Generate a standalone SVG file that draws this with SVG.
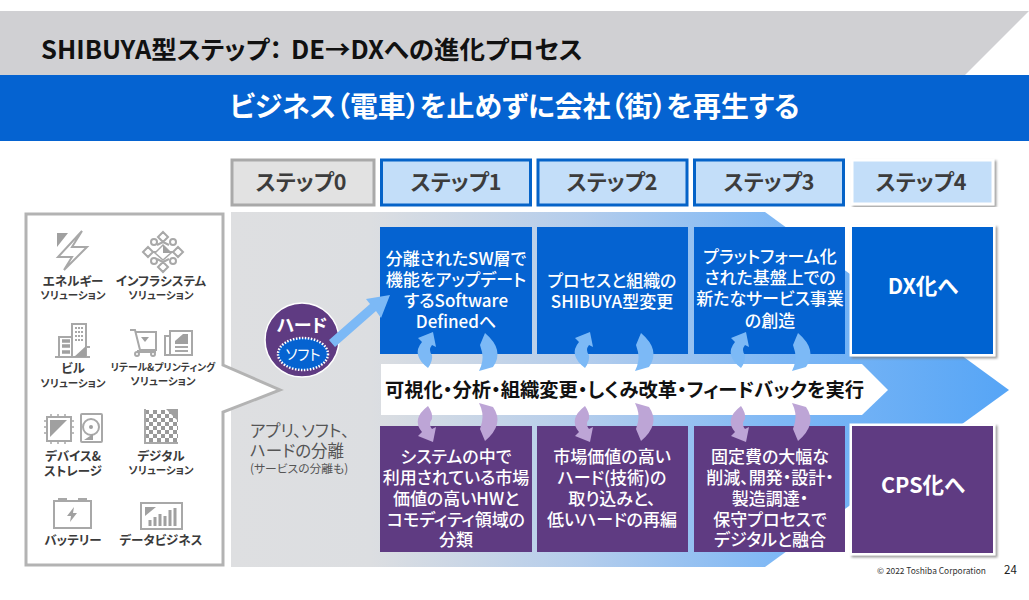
<svg xmlns="http://www.w3.org/2000/svg" width="1029" height="600" viewBox="0 0 1029 600">
<defs>
<style>
text{font-family:"Noto Sans CJK JP","Noto Sans",sans-serif;font-feature-settings:"palt";text-anchor:middle}
.step{font-size:21.500px;font-weight:700;fill:#3c3c3c}
.st{fill:#c3def9;stroke:#0563c8;stroke-width:3}
.box{font-size:17px;font-weight:500;fill:#fff}
.big{font-size:21.500px;font-weight:700;fill:#fff}
.blue{fill:#0563d1}
.pur{fill:#5f3b82}
.lb{font-size:12.500px;font-weight:700;fill:#3a3a3a}
.sl{font-size:10.500px;font-weight:700;fill:#3a3a3a}
.ic{fill:none;stroke:#a8a8a8;stroke-width:2}
.icf{fill:#a0a0a0}
.ca{fill:#7cb9f6}
.cp{fill:#bda5d6}
.note{text-anchor:start;fill:#555}
</style>
<linearGradient id="bg" gradientUnits="userSpaceOnUse" x1="231" y1="0" x2="1009" y2="0">
<stop offset="0" stop-color="#dedfe1"/><stop offset="0.18" stop-color="#dcdee1"/><stop offset="0.45" stop-color="#b4cdec"/><stop offset="0.7" stop-color="#7fb8f5"/><stop offset="1" stop-color="#56a5f6"/>
</linearGradient>
<pattern id="chk" width="8" height="8" patternUnits="userSpaceOnUse" x="145" y="410"><rect width="8" height="8" fill="#fff"/><rect width="4" height="4" fill="#999"/><rect x="4" y="4" width="4" height="4" fill="#999"/></pattern>
<path id="cl" d="M433,332 L418,338 L422,342 Q411,355 428,368 Q433,361 432,355 Q428,350 432,345 L436,347 Z"/>
<path id="cr" d="M485,333 L480,345 L482,352 Q484,361 479,371 L493,367 Q505,350 485,333 Z"/>
<filter id="sh" x="-5%" y="-5%" width="110%" height="110%"><feDropShadow dx="2" dy="2" stdDeviation="1" flood-color="#777" flood-opacity="0.7"/></filter>
</defs>
<rect width="1029" height="600" fill="#fff"/>

<g id="header">
<polygon points="0,11 1029,11 965,75 0,75" fill="#d0d0d3"/>
<rect y="75" width="1029" height="66" fill="#0563d1"/>
<text x="41" y="59" font-size="25.500" font-weight="700" fill="#111" style="text-anchor:start">SHIBUYA型ステップ：<tspan x="291">DE→DXへの進化プロセス</tspan></text>
<text x="514.500" y="117" font-size="27.900" font-weight="700" fill="#fff">ビジネス（電車）を止めずに会社（街）を再生する</text>
</g>

<g id="flow-arrow">
<polygon points="231,212 765,212 1009,390 765,567 231,567" fill="url(#bg)"/>
</g>

<g id="step0"><rect x="232" y="160" width="142" height="45" fill="#e2e2e2" stroke="#a9a9a9" stroke-width="3"/><text class="step" x="301" y="190">ステップ0</text></g>
<g id="step1"><rect class="st" x="381.500" y="160" width="149" height="45"/><text class="step" x="456" y="190">ステップ1</text></g>
<g id="step2"><rect class="st" x="538" y="160" width="149" height="45"/><text class="step" x="612" y="190">ステップ2</text></g>
<g id="step3"><rect class="st" x="694.500" y="160" width="149" height="45"/><text class="step" x="769" y="190">ステップ3</text></g>
<g id="step4"><rect x="852" y="160" width="141" height="44" fill="#c3def9" stroke="#fff" stroke-width="3" filter="url(#sh)"/><text class="step" x="921" y="190">ステップ4</text></g>

<g id="band">
<polygon points="381,364 862,364 888,390 862,415 381,415" fill="#fff"/>
<text x="624.500" y="397" font-size="19.300" font-weight="700" fill="#111">可視化・分析・組織変更・しくみ改革・フィードバックを実行</text>
</g>

<g id="box-t1"><rect class="blue" x="380" y="227" width="152" height="127"/>
<text class="box" x="456" y="265">分離されたSW層で</text><text class="box" x="456" y="286">機能をアップデート</text><text class="box" x="456" y="307">するSoftware</text><text class="box" x="456" y="328">Definedへ</text></g>
<g id="box-t2"><rect class="blue" x="537" y="227" width="151" height="127"/>
<text class="box" x="612" y="287">プロセスと組織の</text><text class="box" x="612" y="308">SHIBUYA型変更</text></g>
<g id="box-t3"><rect class="blue" x="694" y="227" width="151" height="127"/>
<text class="box" x="770" y="263">プラットフォーム化</text><text class="box" x="770" y="284">された基盤上での</text><text class="box" x="770" y="305">新たなサービス事業</text><text class="box" x="770" y="327">の創造</text></g>
<g id="box-dx"><rect class="blue" x="852" y="227" width="141" height="127" stroke="#fff" stroke-width="5" paint-order="stroke" filter="url(#sh)"/><text class="big" x="923" y="294">DX化へ</text></g>

<g id="box-b1"><rect class="pur" x="380" y="426" width="152" height="126"/>
<text class="box" x="456" y="463">システムの中で</text><text class="box" x="456" y="484">利用されている市場</text><text class="box" x="456" y="505">価値の高いHWと</text><text class="box" x="456" y="526">コモディティ領域の</text><text class="box" x="456" y="546">分類</text></g>
<g id="box-b2"><rect class="pur" x="537" y="426" width="151" height="126"/>
<text class="box" x="612" y="463">市場価値の高い</text><text class="box" x="612" y="484">ハード(技術)の</text><text class="box" x="612" y="505">取り込みと、</text><text class="box" x="612" y="526">低いハードの再編</text></g>
<g id="box-b3"><rect class="pur" x="694" y="426" width="151" height="126"/>
<text class="box" x="770" y="463">固定費の大幅な</text><text class="box" x="770" y="484">削減、開発・設計・</text><text class="box" x="770" y="505">製造調達・</text><text class="box" x="770" y="526">保守プロセスで</text><text class="box" x="770" y="546">デジタルと融合</text></g>
<g id="box-cps"><rect class="pur" x="852" y="426" width="141" height="127" stroke="#fff" stroke-width="5" paint-order="stroke" filter="url(#sh)"/><text class="big" x="923" y="493">CPS化へ</text></g>

<g id="portfolio">
<polygon points="26,214 223,214 223,365 280,390 223,412 223,565 26,565" fill="#fff" stroke="#b3b3b3" stroke-width="3"/>
<g id="icon-energy"><polygon class="ic" points="82,231 72,247 87,247 64,270 72,257 58,257"/><polygon class="icf" points="57,233 68,233 57,247"/></g>
<text class="lb" x="73" y="286">エネルギー</text><text class="sl" x="73" y="299">ソリューション</text>
<g id="icon-infra"><path class="ic" d="M163,232l5,5l-5,5l-5,-5zM163,262l5,5l-5,5l-5,-5zM148,247l5,5l-5,5l-5,-5zM178,247l5,5l-5,5l-5,-5zM153,252h20M157,245l6,-3M169,245l-6,-3M157,259l6,3M169,259l-6,3"/><circle class="ic" cx="154" cy="242" r="3"/><circle class="ic" cx="173" cy="242" r="3"/><circle class="ic" cx="154" cy="261" r="3"/><circle class="ic" cx="173" cy="261" r="3"/><polygon points="163,245 171,253 163,260 155,253" fill="#fff" stroke="#a8a8a8" stroke-width="1.500"/><polygon class="icf" points="163,245 171,253 163,253"/></g>
<text class="lb" x="161" y="286">インフラシステム</text><text class="sl" x="161" y="299">ソリューション</text>
<g id="icon-building"><path class="ic" d="M55,357H90M59,357V337H72M72,357V324H86V357M86,347H90"/><path d="M62,341h8M62,346h8M62,352h8" stroke="#a0a0a0" stroke-width="3.500" fill="none"/><path d="M75,328h8M75,332h8M75,336h8M75,340h8" stroke="#a8a8a8" stroke-width="2" stroke-dasharray="2 1" fill="none"/><polygon class="icf" points="74,357 86,346 86,357"/></g>
<text class="lb" x="73" y="373">ビル</text><text class="sl" x="73" y="387">ソリューション</text>
<g id="icon-retail"><path class="ic" d="M130,330h5l5,20h16V332H136M138,350v2h17v-2"/><circle class="ic" cx="137" cy="354" r="2"/><circle class="ic" cx="153" cy="354" r="2"/><polygon class="icf" points="141,337 149,337 145,342"/><path class="ic" d="M170,331h22v24h-27v-19h5zM170,331v24M175,347h13M175,351h13"/><rect class="icf" x="175" y="334" width="13" height="10"/><polygon points="175,334 183,334 175,341" fill="#fff"/></g>
<text x="163" y="371" font-size="9.800" font-weight="700" fill="#3a3a3a">リテール&amp;プリンティング</text><text class="sl" x="163" y="385">ソリューション</text>
<g id="icon-device"><rect class="ic" x="47" y="417" width="24" height="24"/><path d="M44,421h3M44,427h3M44,433h3M71,421h3M71,427h3M71,433h3M51,414v3M58,414v3M65,414v3M51,441v3M58,441v3M65,441v3" stroke="#a8a8a8" stroke-width="1.500"/><polygon class="icf" points="50,420 67,420 50,437"/><rect class="ic" x="81" y="414" width="21" height="28" rx="1"/><circle class="ic" cx="91" cy="427" r="8"/><circle class="icf" cx="91" cy="427" r="2"/><polygon class="icf" points="84,440 93,434 93,440"/></g>
<text class="lb" x="73" y="461">デバイス&amp;</text><text class="lb" x="73" y="476">ストレージ</text>
<g id="icon-digital"><path d="M145,410H178V443H145Z" fill="url(#chk)"/><path class="ic" d="M145,409V443H178"/><polygon class="icf" points="166,409 178,409 178,421"/></g>
<text class="lb" x="161" y="461">デジタル</text><text class="sl" x="161" y="474">ソリューション</text>
<g id="icon-battery"><rect class="ic" x="54" y="501" width="37" height="27"/><path d="M58,499h9M78,499h9" stroke="#a8a8a8" stroke-width="2"/><polygon class="icf" points="74,507 67,516 71,516 70,522 77,513 73,513"/></g>
<text class="lb" x="73" y="545">バッテリー</text>
<g id="icon-data"><rect class="ic" x="141" y="503" width="41" height="26" stroke-width="2.500"/><polygon class="icf" points="145,507 156,507 145,516"/><path d="M150,526v-6M155,526v-9M160,526v-12M165,526v-10M170,526v-16M175,526v-18" stroke="#a0a0a0" stroke-width="3"/></g>
<text class="lb" x="161" y="545">データビジネス</text>
</g>

<g id="hw-note">
<text class="note" x="250" y="437" font-size="16.500">アプリ、ソフト、</text>
<text class="note" x="250" y="457" font-size="16.500">ハードの分離</text>
<text class="note" x="250" y="473" font-size="11.800">(サービスの分離も)</text>
</g>

<g id="hard-soft">
<circle cx="302" cy="340" r="37" fill="#5f3b82" stroke="#fff" stroke-width="1.500"/>
<text x="302" y="332" font-size="18" font-weight="700" fill="#fff">ハード</text>
<ellipse cx="303" cy="354" rx="25" ry="16" fill="#0563d1" stroke="#fff" stroke-width="2.500" stroke-dasharray="1.500 1.500"/>
<text x="303" y="360" font-size="14.500" fill="#fff">ソフト</text>
</g>

<g id="connectors">
<polygon class="ca" points="390,295 381,318 376,311 335,347 329,340 370,304 366,299"/>
<use href="#cl" class="ca"/><use href="#cr" class="ca"/>
<use href="#cl" class="ca" x="157"/><use href="#cr" class="ca" x="156"/>
<use href="#cl" class="ca" x="313"/><use href="#cr" class="ca" x="313"/>
<g transform="translate(0,774) scale(1,-1)">
<use href="#cl" class="cp"/><use href="#cr" class="cp"/>
<use href="#cl" class="cp" x="157"/><use href="#cr" class="cp" x="156"/>
<use href="#cl" class="cp" x="313"/><use href="#cr" class="cp" x="313"/>
</g>
</g>

<g id="footer">
<text x="931.500" y="574" font-size="8.400" fill="#333">© 2022 Toshiba Corporation</text>
<text x="1010.500" y="574" font-size="11.500" fill="#222">24</text>
</g>
</svg>
